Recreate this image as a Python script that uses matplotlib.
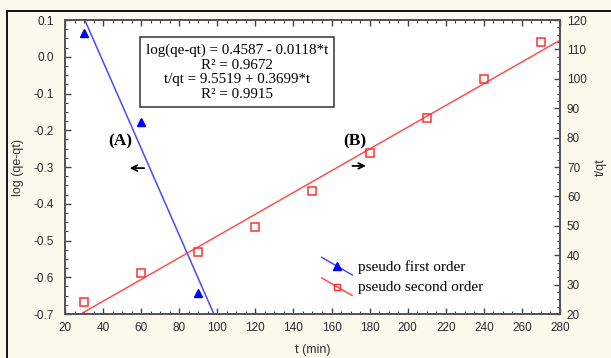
import numpy as np
import matplotlib
matplotlib.use('Agg')
import matplotlib.pyplot as plt
from matplotlib.lines import Line2D
from matplotlib.legend_handler import HandlerLine2D
from matplotlib.ticker import MultipleLocator

# pseudo first order : log(qe-qt) vs t
t1 = [30, 60, 90]
logq = [0.065, -0.177, -0.642]
# pseudo second order : t/qt vs t
t2 = [30, 60, 90, 120, 150, 180, 210, 240, 270]
tq = [24.1, 34.0, 41.0, 49.6, 61.8, 74.7, 86.6, 99.9, 112.6]

# fitted lines (coefficients from the box)
a1, b1 = 0.4587, -0.0118
a2, b2 = 9.5519, 0.3699
t_fit = np.array([20, 280])

box_txt = "log(qe-qt) = 0.4587 - 0.0118*t\nR² = 0.9672\nt/qt = 9.5519 + 0.3699*t\nR² = 0.9915"

tick_font = dict(family='Liberation Sans', size=8.5)
serif = 'Liberation Serif'


class DiagHandler(HandlerLine2D):
    # statistica style slanted legend line
    def create_artists(self, legend, orig_handle, xdescent, ydescent,
                       width, height, fontsize, trans):
        arts = super().create_artists(legend, orig_handle, xdescent, ydescent,
                                      width, height, fontsize, trans)
        for a in arts:
            x = a.get_xdata()
            a.set_ydata(np.linspace(height + 2, -3, len(x)) - ydescent)
        return arts


fig = plt.figure(figsize=(6.11, 3.58), dpi=100)
fig.patch.set_facecolor('#fdf8ec')
ax = fig.add_axes([0.1064, 0.1229, 0.8101, 0.8212])
ax2 = ax.twinx()

ax.plot(t_fit, a1 + b1 * t_fit, color='#4a4aff', lw=1.1)
ax.plot(t1, logq, ls='none', marker='^', ms=6, color='#0000ff')
ax2.plot(t_fit, a2 + b2 * t_fit, color='#ff5050', lw=1.1)
ax2.plot(t2, tq, ls='none', marker='s', ms=6, mfc='none', mec='#ff3030', mew=1.1)

ax.set_xlim(20, 280)
ax.set_ylim(-0.7, 0.1)
ax2.set_ylim(20, 120)
ax.xaxis.set_major_locator(MultipleLocator(20))
ax.xaxis.set_minor_locator(MultipleLocator(5))
ax.yaxis.set_major_locator(MultipleLocator(0.1))
ax.yaxis.set_minor_locator(MultipleLocator(0.025))
ax2.yaxis.set_major_locator(MultipleLocator(10))
ax2.yaxis.set_minor_locator(MultipleLocator(2.5))
ax.yaxis.set_major_formatter(plt.FuncFormatter(lambda v, p: '%.1f' % v))

for a in (ax, ax2):
    for s in a.spines.values():
        s.set_color('#555555')
        s.set_linewidth(1.3)
ax.tick_params(which='both', direction='in', top=True, color='#444444', labelcolor='#2a2a2a')
ax.tick_params(which='major', length=4, width=1)
ax.tick_params(which='minor', length=2.5, width=0.8)
ax.tick_params(axis='y', pad=8)
ax.tick_params(axis='x', pad=6)
ax2.tick_params(which='both', direction='in', color='#444444', labelcolor='#2a2a2a', pad=5)
ax2.tick_params(which='major', length=4, width=1)
ax2.tick_params(which='minor', length=2.5, width=0.8)
for lab in ax.get_xticklabels() + ax.get_yticklabels() + ax2.get_yticklabels():
    lab.set_fontfamily(tick_font['family'])
    lab.set_fontsize(tick_font['size'])

ax.set_xlabel('t (min)', fontfamily='Liberation Sans', fontsize=9, color='#333333', labelpad=7)
ax.set_ylabel('log (qe-qt)', fontfamily='Liberation Sans', fontsize=9, color='#333333', labelpad=7)
ax2.set_ylabel('t/qt', fontfamily='Liberation Sans', fontsize=9, color='#333333', labelpad=6)

ax.text(0.347, 0.823, box_txt, transform=ax.transAxes, ha='center', va='center',
        family=serif, fontsize=10.8, linespacing=1.15,
        bbox=dict(boxstyle='square,pad=0.4', fc='white', ec='#444444', lw=1.2))

ax.text(48.9, -0.229, '(A)', family=serif, fontsize=12.5, fontweight='bold', ha='center', va='center')
ax.text(172.3, -0.229, '(B)', family=serif, fontsize=12.5, fontweight='bold', ha='center', va='center')
ax.annotate('', xy=(52.5, -0.303), xytext=(63, -0.303),
            arrowprops=dict(arrowstyle='->', color='black', lw=1.3))
ax.annotate('', xy=(179.5, -0.297), xytext=(169.5, -0.297),
            arrowprops=dict(arrowstyle='->', color='black', lw=1.3))

h1 = Line2D([], [], color='#4a4aff', lw=1.1, marker='^', ms=6, mfc='#0000ff', mec='#0000ff')
h2 = Line2D([], [], color='#ff5050', lw=1.1, marker='s', ms=5, mfc='none', mec='#ff3030')
ax.legend([h1, h2], ['pseudo first order', 'pseudo second order'],
          loc='upper left', bbox_to_anchor=(0.497, 0.22), frameon=False,
          prop=dict(family=serif, size=11), handlelength=2.0, handletextpad=0.4,
          labelspacing=0.45, borderpad=0.2,
          handler_map={Line2D: DiagHandler(numpoints=1)})

# frame lines of the original figure
fig.add_artist(Line2D([7 / 611, 7 / 611], [0, 1 - 11 / 358], transform=fig.transFigure, color='black', lw=1.3))
fig.add_artist(Line2D([7 / 611, 1], [1 - 11 / 358, 1 - 11 / 358], transform=fig.transFigure, color='black', lw=1.3))

fig.savefig('out.png', dpi=100, facecolor=fig.get_facecolor())
